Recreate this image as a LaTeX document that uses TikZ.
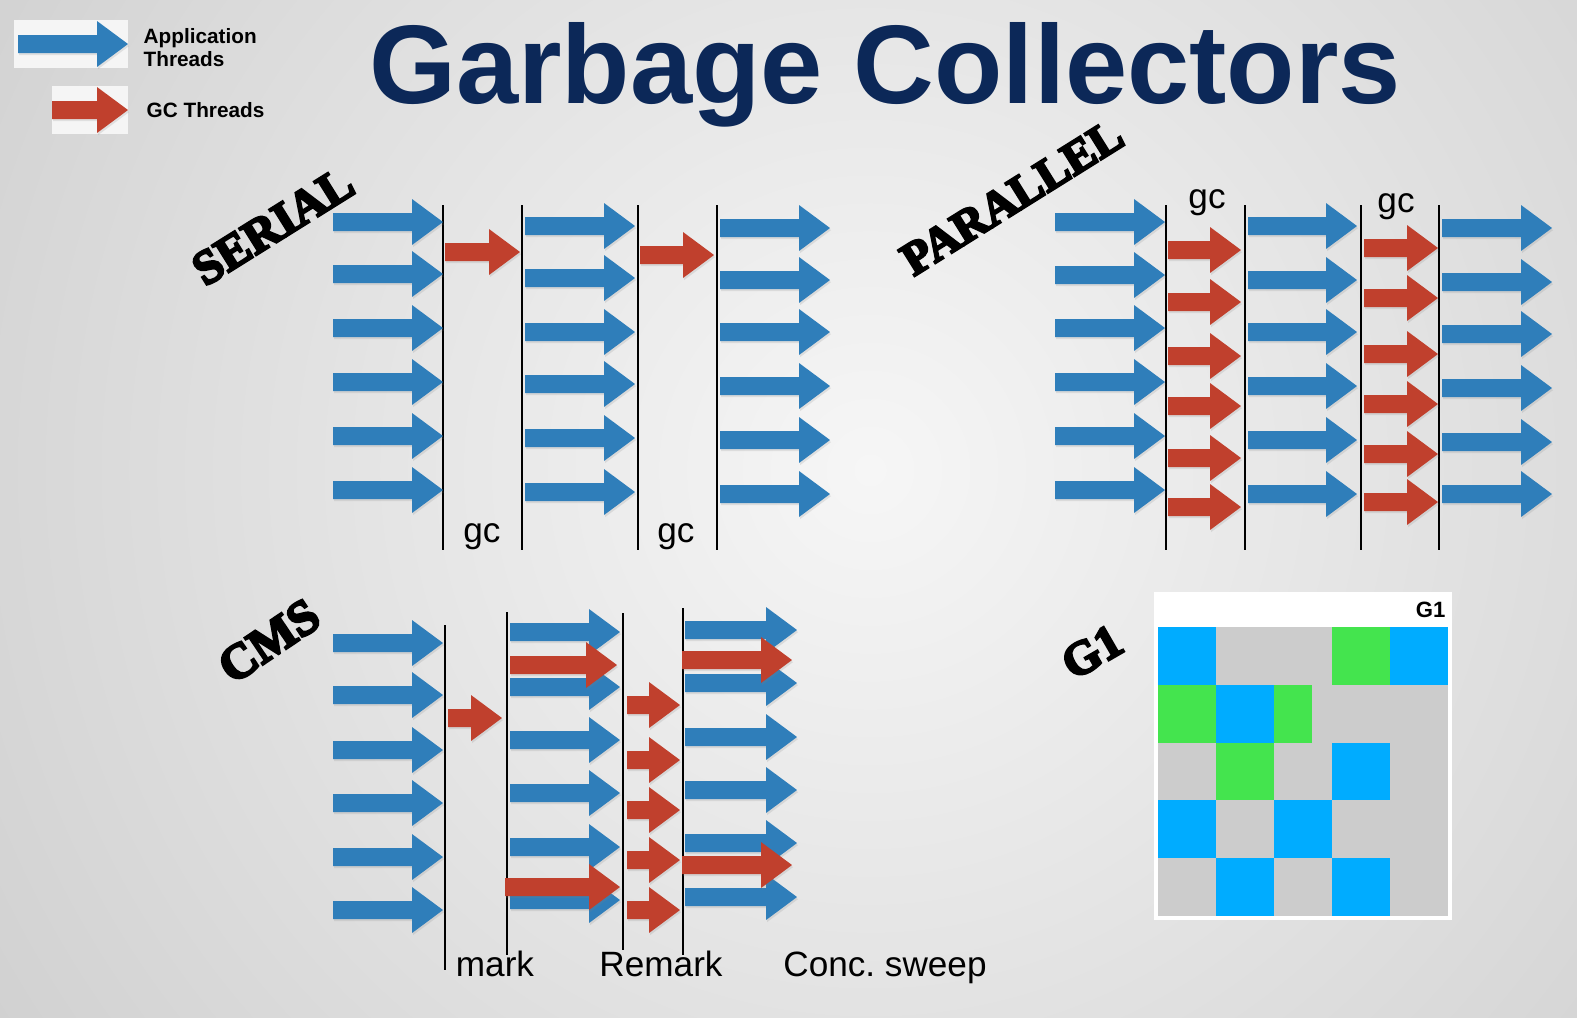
\documentclass[tikz,border=0pt]{standalone}
\usepackage{fontspec}
\setmainfont{Liberation Serif}
\setsansfont{Liberation Sans}
\newfontfamily\stencilfont{Liberation Serif}[BoldFeatures={FakeBold=5}]
\usepackage{color}
\usepackage{tikz}
\usetikzlibrary{shadows}

\definecolor{appblue}{RGB}{47,126,186}
\definecolor{gcred}{RGB}{192,64,45}
\definecolor{navy}{RGB}{12,40,88}
\definecolor{gblue}{RGB}{0,172,255}
\definecolor{ggreen}{RGB}{68,228,78}
\definecolor{ggray}{RGB}{204,204,204}

\newcommand{\fatarrow}[4]{%
  \fill[#1] (#2,#4-9) -- (#3-31,#4-9) -- (#3-31,#4-23) -- (#3,#4)
     -- (#3-31,#4+23) -- (#3-31,#4+9) -- (#2,#4+9) -- cycle;}

\begin{document}
\begin{tikzpicture}[x=0.01cm, y=-0.01cm, inner sep=0pt,
   app/.style={fill=appblue, drop shadow={opacity=0.18, shadow xshift=0.3pt, shadow yshift=-0.6pt}},
   gcthread/.style={fill=gcred, drop shadow={opacity=0.18, shadow xshift=0.3pt, shadow yshift=-0.6pt}},
   phase/.style={draw=black, line width=0.45pt},
   phasetext/.style={anchor=base, font=\sffamily\fontsize{10}{12}\selectfont},
   legtext/.style={anchor=base west, font=\sffamily\bfseries\fontsize{5.9}{7}\selectfont},
   stamp/.style={anchor=center, font=\stencilfont\bfseries\fontsize{13.7}{16}\selectfont}]

   \useasboundingbox (0,0) rectangle (1577,1017);
   \begin{scope}
   \clip (0,0) rectangle (1577,1017);
   \shade[inner color=white!93!gray, outer color=gray!52] (870,470) circle (1600);
   \end{scope}

   \node[anchor=base, text=navy, font=\sffamily\bfseries\fontsize{31.8}{36}\selectfont] (title) at (885,103) {Garbage Collectors};

   \fill[white!92!gray] (14,20) rectangle (128,68);
   \fatarrow{app}{18}{128}{44}
   \fill[white!92!gray] (52,86) rectangle (128,134);
   \fatarrow{gcthread}{52}{128}{110}
   \node[legtext] (legapp) at (143,43) {Application};
   \node[legtext] (legthr) at (143,66) {Threads};
   \node[legtext] (leggc) at (146,117) {GC Threads};

   \node[stamp, rotate=32] (serial) at (273,226) {SERIAL};
   \node[stamp, rotate=32, font=\stencilfont\bfseries\fontsize{13.3}{16}\selectfont] (parallel) at (1012,197) {PARALLEL};
   \node[stamp, rotate=34, font=\stencilfont\bfseries\fontsize{14}{16}\selectfont] (cms) at (269,641) {CMS};
   \node[stamp, rotate=30, font=\stencilfont\bfseries\fontsize{13.5}{16}\selectfont] (gone) at (1092,652) {G1};

   \draw[phase] (443,205) -- (443,550);
   \draw[phase] (522,205) -- (522,550);
   \draw[phase] (638,205) -- (638,550);
   \draw[phase] (717,205) -- (717,550);

   \fatarrow{app}{333}{443}{222}
   \fatarrow{app}{333}{443}{274}
   \fatarrow{app}{333}{443}{328}
   \fatarrow{app}{333}{443}{382}
   \fatarrow{app}{333}{443}{436}
   \fatarrow{app}{333}{443}{490}
   \fatarrow{gcthread}{445}{520}{252}
   \fatarrow{app}{525}{635}{226}
   \fatarrow{app}{525}{635}{278}
   \fatarrow{app}{525}{635}{332}
   \fatarrow{app}{525}{635}{384}
   \fatarrow{app}{525}{635}{438}
   \fatarrow{app}{525}{635}{492}
   \fatarrow{gcthread}{640}{714}{255}
   \fatarrow{app}{720}{830}{228}
   \fatarrow{app}{720}{830}{280}
   \fatarrow{app}{720}{830}{332}
   \fatarrow{app}{720}{830}{386}
   \fatarrow{app}{720}{830}{440}
   \fatarrow{app}{720}{830}{494}

   \node[phasetext] (gcA) at (482,542) {gc};
   \node[phasetext] (gcB) at (676,542) {gc};

   \draw[phase] (1166,205) -- (1166,550);
   \draw[phase] (1245,205) -- (1245,550);
   \draw[phase] (1361,205) -- (1361,550);
   \draw[phase] (1439,205) -- (1439,550);

   \fatarrow{app}{1055}{1165}{222}
   \fatarrow{app}{1055}{1165}{275}
   \fatarrow{app}{1055}{1165}{328}
   \fatarrow{app}{1055}{1165}{382}
   \fatarrow{app}{1055}{1165}{436}
   \fatarrow{app}{1055}{1165}{490}
   \fatarrow{gcthread}{1168}{1241}{250}
   \fatarrow{gcthread}{1168}{1241}{302}
   \fatarrow{gcthread}{1168}{1241}{356}
   \fatarrow{gcthread}{1168}{1241}{406}
   \fatarrow{gcthread}{1168}{1241}{458}
   \fatarrow{gcthread}{1168}{1241}{507}
   \fatarrow{app}{1248}{1357}{226}
   \fatarrow{app}{1248}{1357}{280}
   \fatarrow{app}{1248}{1357}{332}
   \fatarrow{app}{1248}{1357}{386}
   \fatarrow{app}{1248}{1357}{440}
   \fatarrow{app}{1248}{1357}{494}
   \fatarrow{gcthread}{1364}{1438}{248}
   \fatarrow{gcthread}{1364}{1438}{298}
   \fatarrow{gcthread}{1364}{1438}{354}
   \fatarrow{gcthread}{1364}{1438}{404}
   \fatarrow{gcthread}{1364}{1438}{454}
   \fatarrow{gcthread}{1364}{1438}{502}
   \fatarrow{app}{1442}{1552}{228}
   \fatarrow{app}{1442}{1552}{282}
   \fatarrow{app}{1442}{1552}{334}
   \fatarrow{app}{1442}{1552}{388}
   \fatarrow{app}{1442}{1552}{442}
   \fatarrow{app}{1442}{1552}{494}

   \node[phasetext] (gcC) at (1207,208) {gc};
   \node[phasetext] (gcD) at (1396,212) {gc};

   \draw[phase] (445,625) -- (445,970);
   \draw[phase] (507,612) -- (507,955);
   \draw[phase] (623,613) -- (623,950);
   \draw[phase] (683,608) -- (683,955);

   \fatarrow{app}{333}{443}{643}
   \fatarrow{app}{333}{443}{695}
   \fatarrow{app}{333}{443}{750}
   \fatarrow{app}{333}{443}{803}
   \fatarrow{app}{333}{443}{857}
   \fatarrow{app}{333}{443}{910}
   \fatarrow{gcthread}{448}{502}{718}
   \fatarrow{app}{510}{620}{632}
   \fatarrow{app}{510}{620}{687}
   \fatarrow{app}{510}{620}{740}
   \fatarrow{app}{510}{620}{793}
   \fatarrow{app}{510}{620}{847}
   \fatarrow{app}{510}{620}{900}
   \fatarrow{gcthread}{510}{617}{665}
   \fatarrow{gcthread}{505}{620}{887}
   \fatarrow{gcthread}{627}{680}{705}
   \fatarrow{gcthread}{627}{680}{760}
   \fatarrow{gcthread}{627}{680}{810}
   \fatarrow{gcthread}{627}{680}{860}
   \fatarrow{gcthread}{627}{680}{910}
   \fatarrow{app}{685}{797}{630}
   \fatarrow{app}{685}{797}{683}
   \fatarrow{app}{685}{797}{737}
   \fatarrow{app}{685}{797}{790}
   \fatarrow{app}{685}{797}{843}
   \fatarrow{app}{685}{797}{897}
   \fatarrow{gcthread}{682}{792}{660}
   \fatarrow{gcthread}{682}{792}{865}

   \node[phasetext] (mark) at (495,976) {mark};
   \node[phasetext] (remark) at (661,976) {Remark};
   \node[phasetext] (sweep) at (885,976) {Conc.\ sweep};

   \fill[white] (1154,592) rectangle (1452,920);
   \fill[ggray] (1158,627) rectangle (1448,916);
   \fill[gblue] (1158,627) rectangle (1216,685);
   \fill[ggreen] (1332,627) rectangle (1390,685);
   \fill[gblue] (1390,627) rectangle (1448,685);
   \fill[ggreen] (1158,685) rectangle (1216,743);
   \fill[gblue] (1216,685) rectangle (1274,743);
   \fill[ggreen] (1274,685) rectangle (1312,743);
   \fill[ggreen] (1216,743) rectangle (1274,800);
   \fill[gblue] (1332,743) rectangle (1390,800);
   \fill[gblue] (1158,800) rectangle (1216,858);
   \fill[gblue] (1274,800) rectangle (1332,858);
   \fill[gblue] (1216,858) rectangle (1274,916);
   \fill[gblue] (1332,858) rectangle (1390,916);
   \node[anchor=base east, font=\sffamily\bfseries\fontsize{6.3}{7}\selectfont] (gonetag) at (1446,617) {G1};

\end{tikzpicture}
\end{document}
